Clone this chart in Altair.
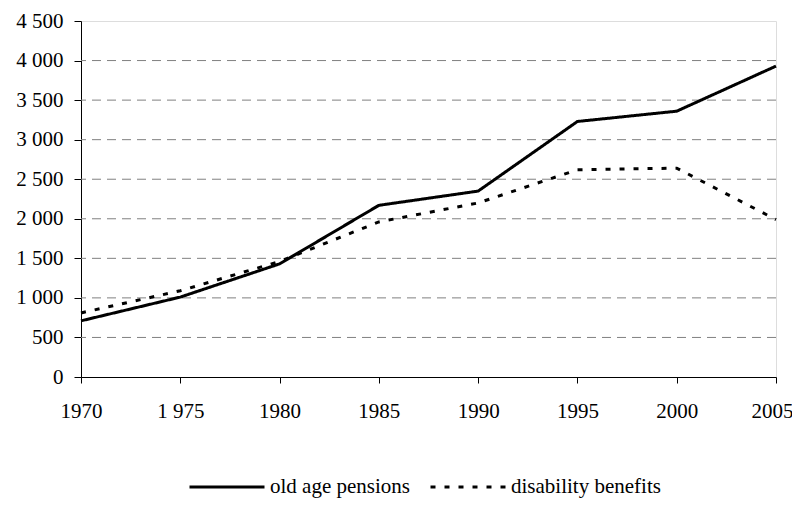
import altair as alt
import pandas as pd

years = [1970, 1975, 1980, 1985, 1990, 1995, 2000, 2005]
old_age = [710, 1010, 1430, 2170, 2350, 3230, 3360, 3930]
disability = [810, 1090, 1460, 1960, 2200, 2620, 2640, 1990]
series_names = ["old age pensions", "disability benefits"]
x_tick_labels = ["1970", "1 975", "1980", "1985", "1990", "1995", "2000", "2005"]
y_ticks = [0, 500, 1000, 1500, 2000, 2500, 3000, 3500, 4000, 4500]
grid_values = [500, 1000, 1500, 2000, 2500, 3000, 3500, 4000]

rows = []
for name, vals in zip(series_names, [old_age, disability]):
    for yr, v in zip(years, vals):
        rows.append({"year": yr, "value": v, "series": name})
df = pd.DataFrame(rows)
grid_df = pd.DataFrame({"value": grid_values})

x_expr = " : ".join(f"datum.value == {y} ? '{l}'" for y, l in zip(years, x_tick_labels)) + " : ''"
y_expr = "replace(format(datum.value, ','), ',', ' ')"

FONT = "Liberation Serif"
FS = 21

x_scale = alt.Scale(domain=[1970, 2005], nice=False, zero=False)
y_scale = alt.Scale(domain=[0, 4500], nice=False)

y_axis = alt.Axis(values=y_ticks, labelExpr=y_expr, grid=False, labelFont=FONT,
                  labelFontSize=FS, labelColor="black", domainColor="black",
                  tickColor="black", tickSize=7, labelPadding=11)
x_axis = alt.Axis(values=years, labelExpr=x_expr, grid=False, labelFont=FONT,
                  labelFontSize=FS, labelColor="black", domainColor="black",
                  tickColor="black", tickSize=6, labelPadding=17,
                  labelOffset={"condition": {"test": f"datum.value == {years[-1]}", "value": -4}, "value": 0},
                  labelOverlap=False, labelBound=False, labelFlush=False)

grid = alt.Chart(grid_df).mark_rule(color="#808080", strokeWidth=1, strokeDash=[9, 6]).encode(
    y=alt.Y("value:Q", scale=y_scale, title=None, axis=y_axis)
)

lines = alt.Chart(df).mark_line(color="black", strokeWidth=3).encode(
    x=alt.X("year:Q", scale=x_scale, title=None, axis=x_axis),
    y=alt.Y("value:Q", scale=y_scale, title=None, axis=y_axis),
    strokeDash=alt.StrokeDash("series:N", sort=series_names,
                              scale=alt.Scale(domain=series_names, range=[[1, 0], [5, 9]]),
                              legend=alt.Legend(title=None, orient="none", legendX=107, legendY=427,
                                                direction="horizontal", symbolType="stroke",
                                                symbolSize=5625, symbolStrokeWidth=3,
                                                symbolStrokeColor="black", padding=0,
                                                labelFont=FONT, labelFontSize=FS, labelColor="black",
                                                labelOffset=4, columnPadding=14)),
    detail="series:N",
)

chart = alt.layer(grid, lines).properties(
    width=695, height=356,
    autosize=alt.AutoSizeParams(type="none"),
    padding={"left": 73, "top": 13, "right": 16, "bottom": 121},
).configure_view(stroke="black", strokeWidth=1).configure(background="white")

chart.save("out.html", embed_options={"renderer": "svg", "actions": False})
